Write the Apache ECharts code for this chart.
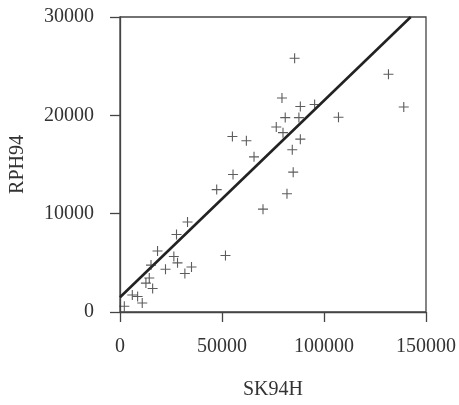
<!DOCTYPE html>
<html>
<head>
<meta charset="utf-8">
<script src="https://cdn.jsdelivr.net/npm/echarts@6/dist/echarts.min.js"></script>
<style>
html,body{margin:0;padding:0;background:#fff;}
#chart{width:459px;height:405px;}
</style>
</head>
<body>
<div id="chart"></div>
<script>
// SK94H (x) values
const sk94h = [85600,131600,139100,79400,88400,95400,81000,87700,107100,76600,
  79900,55100,61950,88400,84450,65700,55400,84900,47400,81850,
  70100,33100,27700,51700,18400,15200,26400,28200,22300,35050,
  31800,14350,12700,16000,6030,8640,10900,2120];
// RPH94 (y) values
const rph94 = [25800,24180,20850,21760,20900,21100,19770,19770,19800,18820,
  18240,17840,17420,17580,16500,15780,13990,14220,12450,12030,
  10460,9150,7880,5750,6210,4770,5650,5000,4350,4580,
  3920,3460,2940,2390,1730,1570,915,590];
// Fitted line endpoints
const fitX = [0, 142500];
const fitY = [1500, 30000];
const xTicks = [0, 50000, 100000, 150000];
const yTicks = [0, 10000, 20000, 30000];

const chart = echarts.init(document.getElementById('chart'));
const serif = '"Liberation Serif", "DejaVu Serif", serif';
const plain = v => String(v);
chart.setOption({
  animation: false,
  backgroundColor: '#ffffff',
  grid: {left: 118, right: 33, top: 17, bottom: 82, show: true, borderColor: '#444', borderWidth: 1.3},
  xAxis: {
    type: 'value', min: xTicks[0], max: xTicks[xTicks.length-1], interval: 50000,
    name: 'SK94H', nameLocation: 'middle', nameGap: 68,
    nameTextStyle: {fontFamily: serif, fontSize: 20, color: '#333'},
    axisLine: {show: true, onZero: false, lineStyle: {color: '#444', width: 1.3}},
    axisTick: {show: true, inside: false, length: 10, lineStyle: {color: '#444', width: 1.3}},
    axisLabel: {fontFamily: serif, fontSize: 20, color: '#333', margin: 25, formatter: plain},
    splitLine: {show: false}
  },
  yAxis: {
    type: 'value', min: yTicks[0], max: yTicks[yTicks.length-1], interval: 10000,
    name: 'RPH94', nameLocation: 'middle', nameGap: 92, nameRotate: 90,
    nameTextStyle: {fontFamily: serif, fontSize: 20, color: '#333'},
    axisLine: {show: true, onZero: false, lineStyle: {color: '#444', width: 1.3}},
    axisTick: {show: true, inside: false, length: 10, lineStyle: {color: '#444', width: 1.3}},
    axisLabel: {fontFamily: serif, fontSize: 20, color: '#333', margin: 26, formatter: plain},
    splitLine: {show: false}
  },
  series: [
    {
      type: 'line',
      data: fitX.map((x, i) => [x, fitY[i]]),
      symbol: 'none',
      lineStyle: {color: '#222', width: 2.6},
      z: 2
    },
    {
      type: 'scatter',
      data: sk94h.map((x, i) => [x, rph94[i]]),
      symbol: 'path://M-5,0L5,0M0,-5L0,5',
      symbolSize: 10,
      itemStyle: {color: 'transparent', borderColor: '#333', borderWidth: 1.1},
      z: 3
    }
  ]
});
</script>
</body>
</html>
